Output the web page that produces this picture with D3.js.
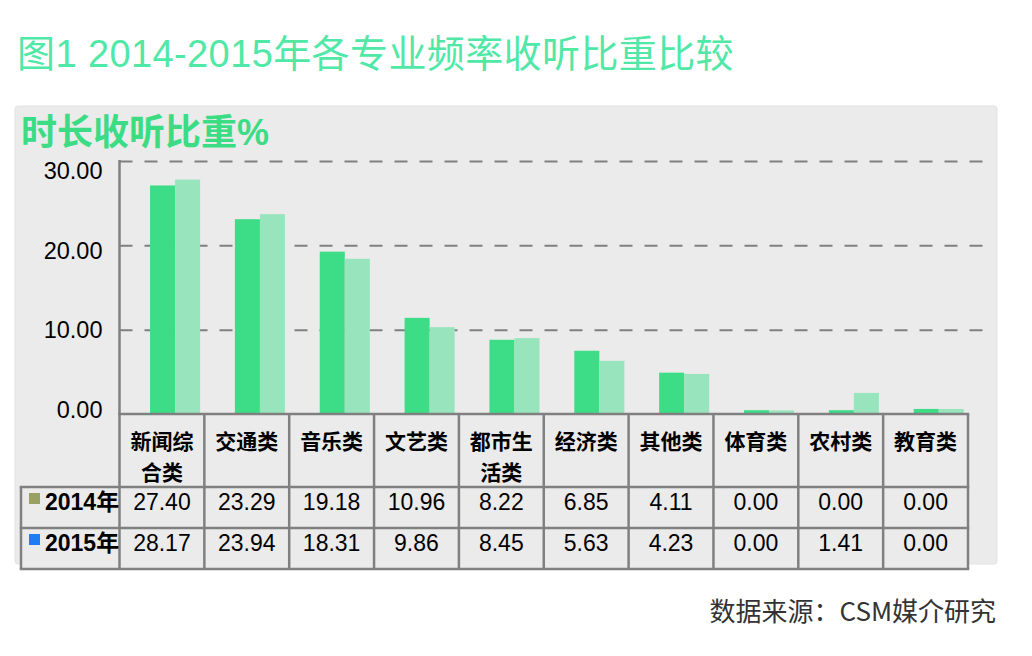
<!DOCTYPE html>
<html>
<head>
<meta charset="utf-8">
<script src="https://cdn.jsdelivr.net/npm/d3@7.9.0/dist/d3.min.js"></script>
<style>
  html, body { margin: 0; padding: 0; background: #fff; }
  svg { display: block; font-family: "Liberation Sans", Arial, "Noto Sans CJK SC", sans-serif; }
</style>
</head>
<body>
<svg id="chart" width="1032" height="656"></svg>
<script>
// categories and values
const categories = ['新闻综合类', '交通类', '音乐类', '文艺类', '都市生活类', '经济类', '其他类', '体育类', '农村类', '教育类'];
const seriesNames = ['2014年', '2015年'];
// bar heights as drawn in the picture
const bars2014 = [27.1, 23.1, 19.25, 11.4, 8.8, 7.5, 4.9, 0.45, 0.45, 0.6];
const bars2015 = [27.8, 23.7, 18.4, 10.3, 9.0, 6.3, 4.75, 0.43, 2.5, 0.6];
// numbers printed in the data table
const table2014 = ['27.40', '23.29', '19.18', '10.96', '8.22', '6.85', '4.11', '0.00', '0.00', '0.00'];
const table2015 = ['28.17', '23.94', '18.31', '9.86', '8.45', '5.63', '4.23', '0.00', '1.41', '0.00'];
const yTicks = [0, 10, 20, 30];

const barColors = ['#3ddc87', '#98e5bd'];
const swatchColors = ['#9a9f62', '#1f7df4'];
const lineColor = '#808080';

const svg = d3.select('#chart');

// title
svg.append('text')
  .attr('x', 17).attr('y', 67)
  .attr('fill', '#4fe8a6')
  .style('font-size', '38px')
  .style('letter-spacing', '0.4px')
  .text('图1 2014-2015年各专业频率收听比重比较');

// grey panel
svg.append('rect')
  .attr('x', 15).attr('y', 106)
  .attr('width', 982).attr('height', 458)
  .attr('rx', 3)
  .attr('fill', '#ebebeb')
  .attr('stroke', '#e2e2e2');

svg.append('text')
  .attr('x', 21).attr('y', 145)
  .attr('fill', '#3cdc85')
  .style('font-size', '36px')
  .style('font-weight', 'bold')
  .text('时长收听比重%');

const plotLeft = 119.5, plotRight = 968, plotTop = 161, plotBase = 414;

const x = d3.scaleBand().domain(categories).range([plotLeft, plotRight]).padding(0);
const xs = d3.scaleBand().domain(seriesNames)
  .range([x.bandwidth() * 0.36, x.bandwidth() * 0.95]).padding(0);
const y = d3.scaleLinear().domain([0, 30]).range([plotBase, plotTop]);
// the tick labels sit on a slightly tighter spacing than the gridlines
const yLabel = d3.scaleLinear().domain([0, 30]).range([410, 171]);

// dashed grid
const grid = svg.append('g')
  .attr('transform', `translate(${plotLeft},0)`)
  .call(d3.axisRight(y).tickValues(yTicks.slice(1)).tickSize(864).tickFormat(''));
grid.select('.domain').remove();
grid.selectAll('line')
  .attr('stroke', lineColor)
  .attr('stroke-width', 2)
  .attr('stroke-dasharray', '13,12');

// y labels
const yAxis = svg.append('g')
  .attr('transform', `translate(${plotLeft},0)`)
  .call(d3.axisLeft(yLabel).tickValues(yTicks).tickSize(0).tickPadding(17).tickFormat(d3.format('.2f')));
yAxis.select('.domain').remove();
yAxis.selectAll('text')
  .attr('fill', '#000')
  .style('font-size', '23.5px')
  .style('font-family', '"Liberation Sans", Arial, sans-serif');

// bars
const rows = categories.map((c, i) => ({ cat: c, values: [bars2014[i], bars2015[i]] }));
const groups = svg.append('g').selectAll('g')
  .data(rows).join('g')
  .attr('transform', d => `translate(${x(d.cat)},0)`);
groups.selectAll('rect')
  .data(d => d.values.map((v, k) => ({ key: seriesNames[k], v, k })))
  .join('rect')
  .attr('x', d => xs(d.key))
  .attr('width', xs.bandwidth())
  .attr('y', d => y(d.v))
  .attr('height', d => y(0) - y(d.v))
  .attr('fill', d => barColors[d.k]);

// y axis line
svg.append('line')
  .attr('x1', plotLeft).attr('x2', plotLeft)
  .attr('y1', plotTop - 1).attr('y2', plotBase)
  .attr('stroke', lineColor).attr('stroke-width', 2.5);

// data table
const tableLeft = 21, headBottom = 487, row1Bottom = 528, row2Bottom = 569;
const tbl = svg.append('g');
tbl.append('rect')
  .attr('x', plotLeft).attr('y', plotBase)
  .attr('width', plotRight - plotLeft).attr('height', row2Bottom - plotBase)
  .attr('fill', '#ebebeb');
tbl.append('rect')
  .attr('x', tableLeft).attr('y', headBottom)
  .attr('width', plotLeft - tableLeft).attr('height', row2Bottom - headBottom)
  .attr('fill', '#ebebeb');

const hLines = [
  [plotLeft, plotRight, plotBase],
  [tableLeft, plotRight, headBottom],
  [tableLeft, plotRight, row1Bottom],
  [tableLeft, plotRight, row2Bottom]
];
tbl.selectAll('line.h').data(hLines).join('line')
  .attr('class', 'h')
  .attr('x1', d => d[0] - 1.25).attr('x2', d => d[1] + 1.25)
  .attr('y1', d => d[2]).attr('y2', d => d[2])
  .attr('stroke', lineColor).attr('stroke-width', 2.5);

const colEdges = categories.map(c => x(c) + x.bandwidth()).concat([plotLeft]);
tbl.selectAll('line.v').data(colEdges).join('line')
  .attr('class', 'v')
  .attr('x1', d => d).attr('x2', d => d)
  .attr('y1', plotBase).attr('y2', row2Bottom)
  .attr('stroke', lineColor).attr('stroke-width', 2.5);
tbl.append('line')
  .attr('x1', tableLeft).attr('x2', tableLeft)
  .attr('y1', headBottom).attr('y2', row2Bottom)
  .attr('stroke', lineColor).attr('stroke-width', 2.5);

// header labels (wrap after three characters)
categories.forEach(c => {
  const lines = c.length > 3 ? [c.slice(0, 3), c.slice(3)] : [c];
  const t = tbl.append('text')
    .attr('text-anchor', 'middle')
    .attr('fill', '#000')
    .style('font-size', '21px')
    .style('font-weight', 'bold')
    .style('font-family', '"Noto Sans CJK SC", sans-serif');
  lines.forEach((l, j) => {
    t.append('tspan')
      .attr('x', x(c) + x.bandwidth() / 2)
      .attr('y', 449 + j * 31)
      .text(l);
  });
});

// value rows
[table2014, table2015].forEach((vals, r) => {
  const rowY = r === 0 ? 510 : 551;
  tbl.selectAll(null).data(vals).join('text')
    .attr('x', (d, i) => x(categories[i]) + x.bandwidth() / 2)
    .attr('y', rowY)
    .attr('text-anchor', 'middle')
    .attr('fill', '#000')
    .style('font-size', '23px')
    .text(d => d);

  tbl.append('rect')
    .attr('x', 29).attr('y', rowY - 17)
    .attr('width', 11).attr('height', 11)
    .attr('fill', swatchColors[r]);
  tbl.append('text')
    .attr('x', 45).attr('y', rowY)
    .attr('fill', '#000')
    .style('font-size', '23px')
    .style('font-weight', 'bold')
    .text(seriesNames[r]);
});

// source note
svg.append('text')
  .attr('x', 996).attr('y', 621)
  .attr('text-anchor', 'end')
  .attr('fill', '#333')
  .style('font-size', '26px')
  .style('font-family', '"Noto Sans CJK SC", sans-serif')
  .text('数据来源：CSM媒介研究');
</script>
</body>
</html>
